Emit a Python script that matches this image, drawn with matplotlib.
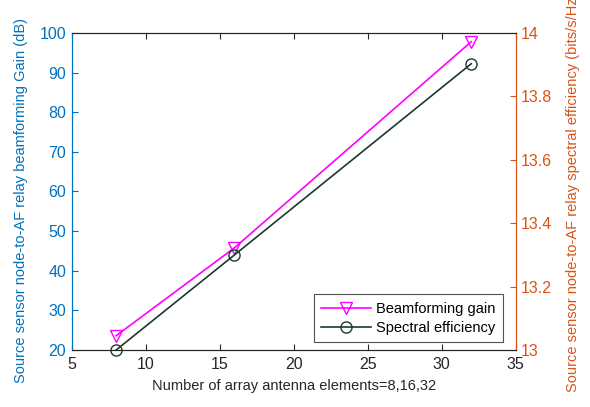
import matplotlib
matplotlib.use('Agg')
import matplotlib.pyplot as plt

# data
elements = [8, 16, 32]
bf_gain = [23.6, 45.8, 97.8]          # dB, left axis
spec_eff = [13.0, 13.30, 13.903]      # bits/s/Hz, right axis

left_ticks = [20, 30, 40, 50, 60, 70, 80, 90, 100]
right_ticks = [13, 13.2, 13.4, 13.6, 13.8, 14]
x_ticks = [5, 10, 15, 20, 25, 30, 35]

blue = '#0072BD'
orange = '#D95319'
magenta = '#FF00FF'
dkgreen = '#1A3A2A'

plt.rcParams['font.family'] = ['Liberation Sans', 'DejaVu Sans']

fig = plt.figure(figsize=(5.9, 4.07), dpi=100)
ax = fig.add_axes([0.1215, 0.140, 0.7525, 0.779])
ax2 = ax.twinx()

l1, = ax.plot(elements, bf_gain, color=magenta, marker='v', markersize=9,
              markerfacecolor='none', markeredgewidth=1.0, linewidth=1.2,
              label='Beamforming gain')
l2, = ax2.plot(elements, spec_eff, color=dkgreen, marker='o', markersize=8,
               markerfacecolor='none', markeredgewidth=1.0, linewidth=1.2,
               label='Spectral efficiency', clip_on=False)

ax.set_xlim(5, 35)
ax.set_ylim(20, 100)
ax2.set_ylim(13, 14)
ax.set_xticks(x_ticks)
ax.set_yticks(left_ticks)
ax2.set_yticks(right_ticks)
ax2.set_yticklabels(['13', '13.2', '13.4', '13.6', '13.8', '14'])

for a in (ax, ax2):
    for s in a.spines.values():
        s.set_linewidth(0.8)
    a.spines['top'].set_color('#262626')
    a.spines['bottom'].set_color('#262626')
    a.spines['left'].set_color(blue)
    a.spines['right'].set_color(orange)

ax.tick_params(axis='x', direction='in', top=True, colors='#262626',
               labelsize=11.5, length=4, pad=5)
ax.tick_params(axis='y', direction='in', colors=blue, labelsize=11.5, length=4, pad=4)
ax2.tick_params(axis='y', direction='in', colors=orange, labelsize=11.5, length=4, pad=4)

ax.set_xlabel('Number of array antenna elements=8,16,32', fontsize=10.5, color='#262626',
              labelpad=5)
ax.set_ylabel('Source sensor node-to-AF relay beamforming Gain (dB)', fontsize=10.5,
              color=blue)
ax2.set_ylabel('Source sensor node-to-AF relay spectral efficiency (bits/s/Hz)',
               fontsize=10.5, color=orange)

# place y labels by their lower end, like the reference
for lab in (ax.yaxis.label, ax2.yaxis.label):
    lab.set_rotation(90)
    lab.set_rotation_mode('default')
    lab.set_ha('center')
    lab.set_va('bottom')
ax.yaxis.set_label_coords(-0.114, -0.104)
ax2.yaxis.set_label_coords(1.129, -0.132)

leg = ax2.legend(handles=[l1, l2], loc='lower right', bbox_to_anchor=(0.971, 0.025),
                 borderaxespad=0, fontsize=10.5, frameon=True, fancybox=False,
                 edgecolor='#262626', handlelength=3.4, handletextpad=0.35,
                 borderpad=0.5, labelspacing=0.35)
leg.get_frame().set_linewidth(0.8)

fig.savefig('out.png', dpi=100)
